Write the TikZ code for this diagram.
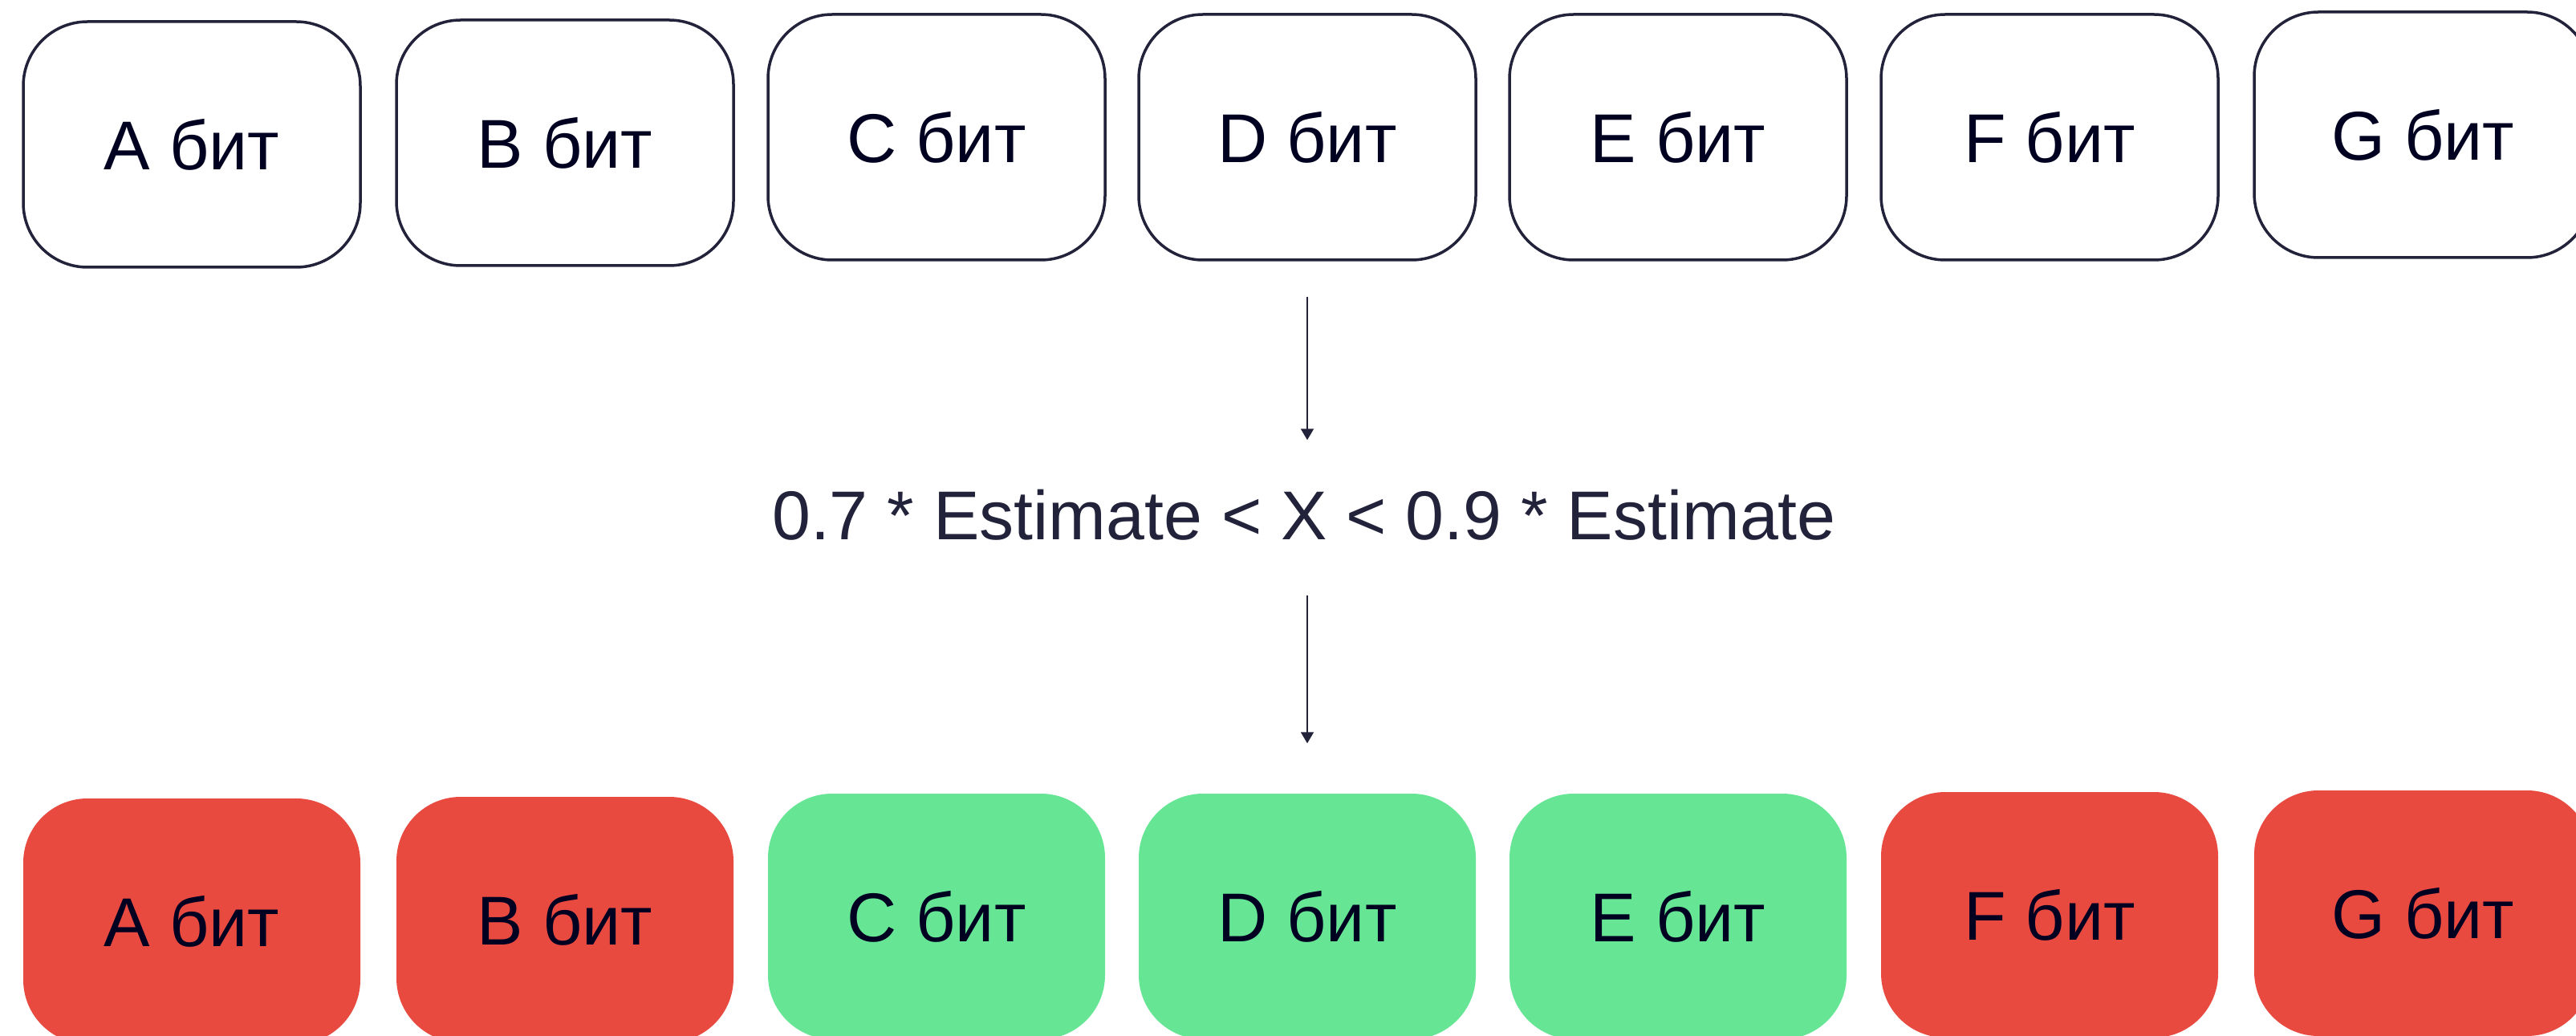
\documentclass[tikz,border=0pt]{standalone}
\usepackage{fontspec}
\setmainfont{Liberation Sans}
\usetikzlibrary{arrows.meta, positioning}
\definecolor{framecol}{HTML}{22223A}
\definecolor{inkcol}{HTML}{000020}
\definecolor{badred}{HTML}{E84A40}
\definecolor{goodgreen}{HTML}{66E694}

\tikzset{
	bitbox/.style={rounded corners=0.8cm, minimum width=4.2cm, minimum height=3.06cm, inner sep=0pt, text=inkcol, font=\fontsize{24.5}{29}\selectfont},
	plain/.style={bitbox, draw=framecol, line width=0.035cm, fill=white},
	bad/.style={bitbox, fill=badred},
	good/.style={bitbox, fill=goodgreen},
	flow/.style={-{Triangle[width=0.16cm,length=0.14cm]}, draw=framecol, line width=0.02cm}
}

\begin{document}
\begin{tikzpicture}
	\useasboundingbox (0,0) rectangle (32.1,-12.91);
	\clip (0,0) rectangle (32.1,-12.91);
	% two rows of bits: before and after the check
	\foreach \i/\lab/\x/\yt/\yb/\st in {1/A/2.39/1.80/11.48/bad, 2/B/7.04/1.78/11.46/bad, 3/C/11.67/1.71/11.42/good, 4/D/16.29/1.71/11.42/good, 5/E/20.91/1.71/11.42/good, 6/F/25.54/1.71/11.40/bad, 7/G/30.19/1.68/11.38/bad}{
		\node[plain] (t\i) at (\x,-\yt) {\lab{} бит};
		\node[\st] (b\i) at (\x,-\yb) {\lab{} бит};
	}
	\node[inner sep=0pt, text height=0.62cm, text depth=0pt, text=framecol, font=\fontsize{24.5}{29}\selectfont] (fml) at (16.25,-6.41) {0.7 * Estimate < X < 0.9 * Estimate};
	\draw[flow, shorten <=0.44cm, shorten >=0.61cm] (t4.south) -- (t4.south |- fml.north);
	\draw[flow, shorten <=0.69cm, shorten >=0.62cm] (b4.north |- fml.south) -- (b4.north);
\end{tikzpicture}
\end{document}
